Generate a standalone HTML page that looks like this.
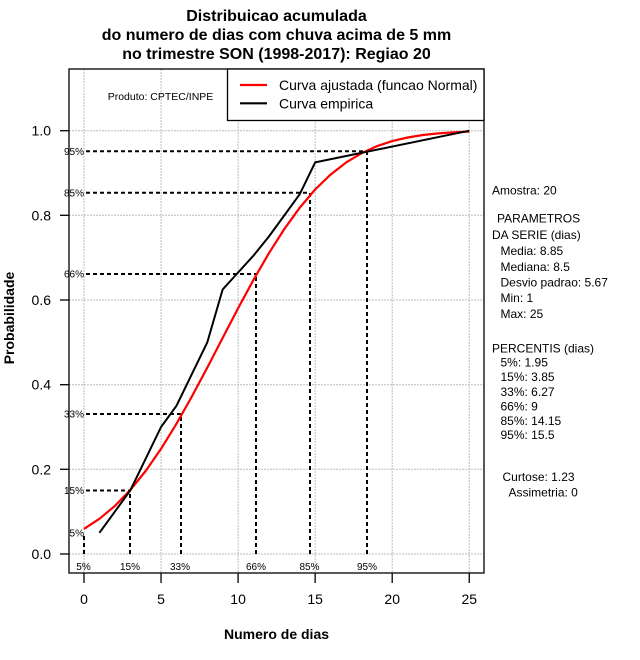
<!DOCTYPE html>
<html><head><meta charset="utf-8"><style>
html,body{margin:0;padding:0;background:#fff;}
svg{display:block;}
text{font-family:"Liberation Sans",Arial,sans-serif;fill:#000;}
</style></head><body>
<svg width="640" height="660" viewBox="0 0 640 660" xmlns="http://www.w3.org/2000/svg">
<!-- title -->
<text x="276.5" y="21" font-size="16" font-weight="bold" text-anchor="middle">Distribuicao acumulada</text>
<text x="276.5" y="40" font-size="16" font-weight="bold" text-anchor="middle">do numero de dias com chuva acima de 5 mm</text>
<text x="276.5" y="59" font-size="16" font-weight="bold" text-anchor="middle">no trimestre SON (1998-2017): Regiao 20</text>

<!-- grid -->
<g stroke="#bdbdbd" stroke-width="1" stroke-dasharray="2,1" fill="none">
<line x1="84" y1="69" x2="84" y2="573"/>
<line x1="161.05" y1="69" x2="161.05" y2="573"/>
<line x1="238.1" y1="69" x2="238.1" y2="573"/>
<line x1="315.15" y1="69" x2="315.15" y2="573"/>
<line x1="392.2" y1="69" x2="392.2" y2="573"/>
<line x1="469.25" y1="69" x2="469.25" y2="573"/>
<line x1="69" y1="554" x2="484" y2="554"/>
<line x1="69" y1="469.3" x2="484" y2="469.3"/>
<line x1="69" y1="384.7" x2="484" y2="384.7"/>
<line x1="69" y1="300" x2="484" y2="300"/>
<line x1="69" y1="215.3" x2="484" y2="215.3"/>
<line x1="69" y1="130.7" x2="484" y2="130.7"/>
</g>

<!-- dashed percentile lines -->
<g stroke="#000" stroke-width="2" stroke-dasharray="4,3" fill="none">
<line x1="86" y1="151.3" x2="367" y2="151.3"/>
<line x1="86" y1="192.7" x2="310" y2="192.7"/>
<line x1="86" y1="274" x2="256" y2="274"/>
<line x1="86" y1="414" x2="181" y2="414"/>
<line x1="86" y1="490.5" x2="130" y2="490.5"/>
<line x1="367" y1="554" x2="367" y2="151.3"/>
<line x1="310" y1="554" x2="310" y2="192.7"/>
<line x1="256" y1="554" x2="256" y2="274"/>
<line x1="181" y1="554" x2="181" y2="414"/>
<line x1="130" y1="554" x2="130" y2="490.5"/>
<line x1="84" y1="554" x2="84" y2="534"/>
</g>

<!-- percent labels on left -->
<g font-size="10" text-anchor="end">
<text x="84" y="155">95%</text>
<text x="84" y="196.5">85%</text>
<text x="84" y="277.5">66%</text>
<text x="84" y="417.5">33%</text>
<text x="84" y="494">15%</text>
<text x="84" y="536.5">5%</text>
</g>
<!-- percent labels bottom -->
<g font-size="10" text-anchor="middle">
<text x="83.5" y="570">5%</text>
<text x="130" y="570">15%</text>
<text x="180" y="570">33%</text>
<text x="256" y="570">66%</text>
<text x="309.5" y="570">85%</text>
<text x="367" y="570">95%</text>
</g>

<!-- red normal curve -->
<polyline fill="none" stroke="#ff0000" stroke-width="2.2" stroke-linejoin="round" points="84,528.9 99.41,518.8 114.82,506.0 130.23,490.0 145.64,471.0 161.05,448.8 176.46,423.8 191.87,396.5 207.28,367.6 222.69,337.9 238.1,308.3 253.51,279.8 268.92,253.2 284.33,229.0 299.74,207.7 315.15,189.5 330.56,174.6 345.97,162.6 361.38,153.3 376.79,146.2 392.2,141.1 407.61,137.5 423.02,135.0 438.43,133.4 453.84,132.3 469.25,131.6"/>

<!-- black empirical curve -->
<polyline fill="none" stroke="#000" stroke-width="2" stroke-linejoin="round" points="99.41,532.8 114.82,511.7 130.23,490.5 145.64,458.8 161.05,427.0 176.46,405.8 191.87,374.1 207.28,342.4 222.69,289.4 238.1,272.5 253.51,255.6 268.92,236.5 284.33,215.4 299.74,194.2 315.15,162.4 469.25,130.7"/>

<!-- plot box -->
<rect x="69" y="69" width="415" height="504" fill="none" stroke="#000" stroke-width="1.3"/>

<!-- y ticks -->
<g stroke="#000" stroke-width="1.3">
<line x1="60" y1="554" x2="69" y2="554"/>
<line x1="60" y1="469.3" x2="69" y2="469.3"/>
<line x1="60" y1="384.7" x2="69" y2="384.7"/>
<line x1="60" y1="300" x2="69" y2="300"/>
<line x1="60" y1="215.3" x2="69" y2="215.3"/>
<line x1="60" y1="130.7" x2="69" y2="130.7"/>
<line x1="84" y1="573" x2="84" y2="583"/>
<line x1="161.05" y1="573" x2="161.05" y2="583"/>
<line x1="238.1" y1="573" x2="238.1" y2="583"/>
<line x1="315.15" y1="573" x2="315.15" y2="583"/>
<line x1="392.2" y1="573" x2="392.2" y2="583"/>
<line x1="469.25" y1="573" x2="469.25" y2="583"/>
</g>
<g font-size="14" text-anchor="end">
<text x="51" y="559">0.0</text>
<text x="51" y="474.3">0.2</text>
<text x="51" y="389.7">0.4</text>
<text x="51" y="305">0.6</text>
<text x="51" y="220.3">0.8</text>
<text x="51" y="135.7">1.0</text>
</g>
<g font-size="14" text-anchor="middle">
<text x="84" y="604">0</text>
<text x="161.05" y="604">5</text>
<text x="238.1" y="604">10</text>
<text x="315.15" y="604">15</text>
<text x="392.2" y="604">20</text>
<text x="469.25" y="604">25</text>
</g>

<!-- axis titles -->
<text x="276.5" y="639" font-size="14" font-weight="bold" text-anchor="middle">Numero de dias</text>
<text transform="translate(14,318) rotate(-90)" font-size="14" font-weight="bold" text-anchor="middle">Probabilidade</text>

<!-- legend -->
<rect x="227.5" y="69" width="256.5" height="51.5" fill="#fff" stroke="#000" stroke-width="1.3"/>
<line x1="240" y1="85" x2="267" y2="85" stroke="#ff0000" stroke-width="2.2"/>
<line x1="240" y1="103.3" x2="267" y2="103.3" stroke="#000" stroke-width="2.2"/>
<text x="279" y="90" font-size="14">Curva ajustada (funcao Normal)</text>
<text x="279" y="108.5" font-size="14">Curva empirica</text>

<text x="160.5" y="100" font-size="10.5" text-anchor="middle">Produto: CPTEC/INPE</text>

<!-- right panel -->
<g font-size="12">
<text x="492" y="194.5">Amostra: 20</text>
<text x="497" y="222.5">PARAMETROS</text>
<text x="492" y="239">DA SERIE (dias)</text>
<text x="500.5" y="255">Media: 8.85</text>
<text x="500.5" y="270.8">Mediana: 8.5</text>
<text x="500.5" y="286.5">Desvio padrao: 5.67</text>
<text x="500.5" y="302.2">Min: 1</text>
<text x="500.5" y="317.8">Max: 25</text>
<text x="492" y="352.5">PERCENTIS (dias)</text>
<text x="500.5" y="366.5">5%: 1.95</text>
<text x="500.5" y="381.2">15%: 3.85</text>
<text x="500.5" y="396">33%: 6.27</text>
<text x="500.5" y="410.5">66%: 9</text>
<text x="500.5" y="425">85%: 14.15</text>
<text x="500.5" y="439">95%: 15.5</text>
<text x="502.5" y="481">Curtose: 1.23</text>
<text x="508.5" y="496.5">Assimetria: 0</text>
</g>
</svg>
</body></html>
